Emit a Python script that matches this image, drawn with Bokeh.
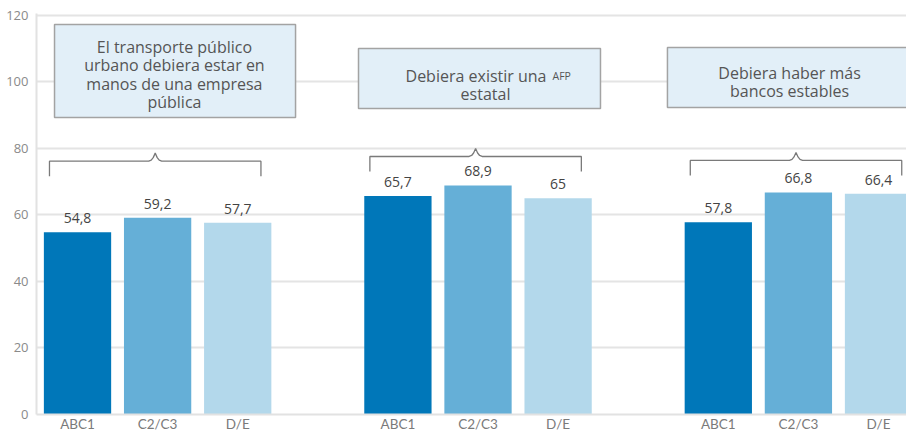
from bokeh.plotting import figure
from bokeh.models import ColumnDataSource, FixedTicker, Range1d
from bokeh.core.properties import value
from bokeh.embed import file_html
from bokeh.resources import INLINE

# ---- data ----
statements = [
    "El transporte público\nurbano debiera estar en\nmanos de una empresa\npública",
    "Debiera existir una AFP\nestatal",
    "Debiera haber más\nbancos estables",
]
segments = ["ABC1", "C2/C3", "D/E"]
abc1 = [54.8, 65.7, 57.8]
c2c3 = [59.2, 68.9, 66.8]
de = [57.7, 65.0, 66.4]
y_ticks = [0, 20, 40, 60, 80, 100, 120]

# ---- style / layout ----
FONT = "Open Sans"
seg_colors = ["#0077b9", "#65afd7", "#b3d8eb"]
GROUP_STEP = 4
BAR_W = 0.84
PX_X = 80.1    # pixels per x unit
PX_Y = 3.325   # pixels per y unit
BASE_PX = 414  # pixel row of y = 0


def ypx(py):
    """convert a pixel row of the page into a y value"""
    return (BASE_PX - py) / PX_Y


series = [abc1, c2c3, de]
xs, tops, fills, labels = [], [], [], []
overrides = {}
for gi in range(len(statements)):
    for si, seg in enumerate(segments):
        x = gi * GROUP_STEP + si
        v = series[si][gi]
        xs.append(x)
        tops.append(v)
        fills.append(seg_colors[si])
        labels.append(f"{v:g}".replace(".", ","))
        overrides[x] = seg

src = ColumnDataSource(dict(x=xs, top=tops, color=fills, label=labels))

p = figure(width=906, height=434,
           x_range=Range1d(-0.512, -0.512 + 870 / PX_X),
           y_range=Range1d(0, 120.6),
           output_backend="svg", toolbar_location=None,
           min_border_left=36, min_border_right=0,
           min_border_top=13, min_border_bottom=20)
p.outline_line_color = None
p.background_fill_color = "white"
p.border_fill_color = "white"

p.xgrid.visible = False
p.ygrid.ticker = FixedTicker(ticks=y_ticks)
p.ygrid.grid_line_color = "#e4e4e4"
p.ygrid.grid_line_width = 2

for ax in (p.xaxis[0], p.yaxis[0]):
    ax.axis_line_color = "#e2e2e2"
    ax.axis_line_width = 2
    ax.major_tick_line_color = None
    ax.minor_tick_line_color = None
    ax.major_tick_out = 0
    ax.major_tick_in = 0
    ax.minor_tick_out = 0
    ax.minor_tick_in = 0

p.yaxis.ticker = FixedTicker(ticks=y_ticks)
p.yaxis.major_label_text_font = FONT
p.yaxis.major_label_text_color = "#8a8a8a"
p.yaxis.major_label_text_font_size = "13px"
p.yaxis.major_label_standoff = 8

p.xaxis.ticker = FixedTicker(ticks=xs)
p.xaxis.major_label_overrides = overrides
p.xaxis.major_label_text_font = "Lato"
p.xaxis.major_label_text_color = "#7a7a7a"
p.xaxis.major_label_text_font_size = "13.5px"
p.xaxis.major_label_standoff = 1

# bars
p.vbar(x="x", top="top", width=BAR_W, fill_color="color", line_color=None, source=src)

# value labels
p.text(x="x", y="top", text="label", source=src, text_align="center",
       text_baseline="middle", y_offset=-14, text_font=value(FONT),
       text_font_size="14px", text_color="#444444")

# braces over each group
brace_y = [76.2, 77.6, 76.4]
peak_px = [(-6.5, 0), (-4, 1), (-2, 3.5), (0, 8), (2, 3.5), (4, 1), (6.5, 0)]
bxs, bys = [], []
for gi in range(len(statements)):
    g = gi * GROUP_STEP
    left, right, c = g - 0.35, g + (len(segments) - 1) + 0.29, g + 0.97
    h = brace_y[gi]
    low = h - 15 / PX_Y
    px = [left, left] + [c + dx / PX_X for dx, _ in peak_px] + [right, right]
    py = [low, h] + [h + dy / PX_Y for _, dy in peak_px] + [h, low]
    bxs.append(px)
    bys.append(py)
p.multi_line(xs=bxs, ys=bys, line_color="#7a7a7a", line_width=1.3)

# statement boxes
box_l = [-0.287, 3.508, 7.365]
box_r = [2.722, 6.529, 10.41]
box_b = [89.3, 92.0, 92.3]
box_t = [117.3, 110.1, 110.4]
p.quad(left=box_l, right=box_r, bottom=box_b, top=box_t,
       fill_color="#e2eff8", line_color="#a3a3a3", line_width=1.5)

TXT = "#555555"
TXT_SIZE = "16px"
LINE_PX = 18.3


def box_lines(xc, first_baseline_px, lines):
    ys = [ypx(first_baseline_px + i * LINE_PX) for i in range(len(lines))]
    p.text(x=[xc] * len(lines), y=ys, text=lines, text_align="center",
           text_baseline="alphabetic", text_font=value(FONT),
           text_font_size=TXT_SIZE, text_color=TXT)


# box 1
box_lines(1.21, 46.7, statements[0].split("\n"))
# box 2 (AFP in small caps)
line1, line2 = statements[1].split("\n")
main1, acr = line1.rsplit(" ", 1)
p.text(x=[5.855], y=[ypx(75.3)], text=[main1], text_align="right",
       text_baseline="alphabetic", text_font=value(FONT), text_font_size=TXT_SIZE,
       text_color=TXT)
p.text(x=[5.93], y=[ypx(75.3)], text=[acr], text_align="left",
       text_baseline="alphabetic", text_font=value(FONT), text_font_size="10.5px",
       text_color=TXT)
box_lines(5.094, 93.6, [line2])
# box 3
box_lines(8.89, 72.7, statements[2].split("\n"))

open("out.html", "w").write(file_html(p, INLINE))
